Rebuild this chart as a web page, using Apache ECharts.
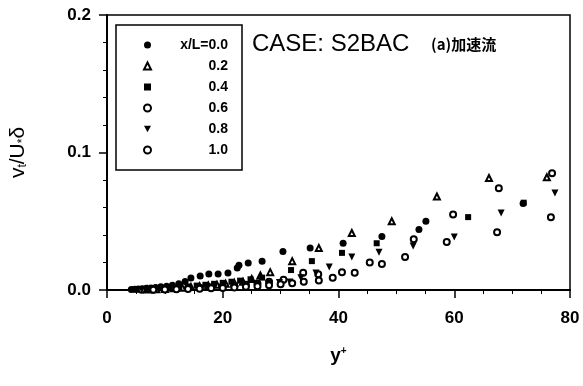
<!DOCTYPE html>
<html>
<head>
<meta charset="utf-8">
<script src="https://cdn.jsdelivr.net/npm/echarts@6/dist/echarts.min.js"></script>
<style>
  html, body { margin: 0; padding: 0; background: #fff; }
  #chart { width: 583px; height: 386px; }
</style>
</head>
<body>
<div id="chart"></div>
<script>
// Eddy viscosity profiles, case S2BAC (accelerating flow), at stations x/L
const stations = ['0.0', '0.2', '0.4', '0.6', '0.8', '1.0'];

// [y+, nu_t/(U* delta)] pairs for each station
const xL00 = [[4.2,0.0004],[4.8,0.0006],[5.4,0.0008],[6.1,0.001],[6.8,0.0012],[7.6,0.0015],[8.4,0.0019],[9.3,0.0023],[10.3,0.0028],[11.3,0.0034],[12.4,0.0045],[13.5,0.0062],[14.5,0.0087],[16.1,0.0102],[17.6,0.0116],[19.2,0.0116],[20.9,0.0124],[22.5,0.016],[22.8,0.018],[24.4,0.0196],[26.8,0.021],[30.4,0.028],[35.1,0.0305],[40.8,0.034],[47.5,0.039],[53.9,0.044],[55.1,0.050],[71.9,0.063]];
const xL02 = [[7,0.0003],[8.5,0.0005],[10,0.0008],[11.5,0.0012],[13,0.0017],[14.5,0.0022],[16,0.0028],[17.5,0.0033],[19,0.0038],[20.5,0.0045],[22,0.0052],[23.5,0.006],[25,0.008],[26.5,0.0105],[28.2,0.013],[32,0.021],[36.6,0.0305],[42.3,0.0415],[49.2,0.05],[57,0.068],[66,0.0815],[76,0.082]];
const xL04 = [[5,0.0003],[6,0.0005],[7,0.0007],[8,0.0009],[9.5,0.0012],[11,0.0016],[12.5,0.002],[14,0.0026],[15.5,0.0032],[17,0.0038],[18.5,0.0045],[20,0.0052],[21.5,0.006],[23,0.0068],[24.8,0.0078],[26.8,0.009],[31.8,0.0145],[35.4,0.021],[40.6,0.027],[46.6,0.034],[62.4,0.053],[72,0.0635]];
const xL06 = [[6,0.0002],[8,0.0004],[10,0.0006],[12,0.0009],[14,0.0012],[16,0.0016],[18,0.002],[20,0.0025],[22,0.003],[24,0.0038],[26,0.0048],[28,0.006],[30.5,0.0075],[33.9,0.0125],[36.5,0.0115],[40.6,0.013],[45.4,0.020],[53,0.037],[59.8,0.055],[67.7,0.074],[76.9,0.085]];
const xL08 = [[6,0.0001],[8,0.0003],[10,0.0005],[12,0.0007],[14,0.001],[16,0.0013],[18,0.0017],[20,0.0021],[22,0.0026],[24,0.0032],[26,0.004],[28,0.0048],[29.8,0.0055],[31.6,0.0058],[33.5,0.009],[36.1,0.0124],[38.4,0.0167],[42.3,0.024],[47,0.0275],[52.9,0.032],[60,0.0385],[68.1,0.056],[77.4,0.0705]];
const xL10 = [[8,0.0001],[10,0.0003],[12,0.0005],[14,0.0007],[16,0.0009],[18,0.0012],[20,0.0015],[22,0.0019],[24,0.0023],[26,0.0028],[28,0.0034],[30,0.0041],[32,0.005],[34,0.006],[36.6,0.007],[39,0.009],[42.8,0.0125],[47.5,0.019],[51.5,0.024],[58.7,0.035],[67.4,0.042],[76.7,0.053]];

const xTicks = [0, 20, 40, 60, 80];
const yTicks = [0.0, 0.1, 0.2];

const FONT = 'Liberation Sans, Arial, sans-serif';
const downTri = 'path://M0,0 L10,0 L5,9 Z';

const seriesData = [xL00, xL02, xL04, xL06, xL08, xL10];
const symbols = ['circle', 'emptyTriangle', 'rect', 'emptyCircle', downTri, 'emptyCircle'];
const sizes = [7, 6, 6, 6, 7, 6];

const chart = echarts.init(document.getElementById('chart'), null, { renderer: 'canvas' });

chart.setOption({
  animation: false,
  backgroundColor: '#fff',
  grid: {
    left: 107, right: 13, top: 15, bottom: 96,
    show: true, borderColor: '#000', borderWidth: 1.5, backgroundColor: 'transparent'
  },
  xAxis: {
    type: 'value', min: xTicks[0], max: xTicks[xTicks.length - 1], interval: 20,
    name: '{n|y}{sup|+}', nameLocation: 'middle', nameGap: 56,
    nameTextStyle: {
      color: '#000', fontFamily: FONT, fontSize: 18, fontWeight: 'bold',
      rich: {
        n: { fontSize: 19, fontWeight: 'bold', fontFamily: FONT, color: '#000' },
        sup: { fontSize: 10, fontWeight: 'bold', verticalAlign: 'top', padding: [0, 0, 10, 0], fontFamily: FONT, color: '#000' }
      }
    },
    axisLine: { lineStyle: { color: '#000', width: 2 } },
    axisTick: { inside: false, length: 8, lineStyle: { color: '#000', width: 1.5 } },
    minorTick: { show: true, splitNumber: 4, length: 4, lineStyle: { color: '#000', width: 1 } },
    axisLabel: { color: '#000', fontFamily: FONT, fontSize: 17, fontWeight: 'bold', margin: 20 },
    splitLine: { show: false }
  },
  yAxis: {
    type: 'value', min: yTicks[0], max: yTicks[yTicks.length - 1], interval: 0.1,
    name: '{n|v}{sub|t}{n|/U}{sub|*}{n|δ}', nameLocation: 'middle', nameGap: 78, nameRotate: 90,
    nameTextStyle: {
      color: '#000', fontFamily: FONT, fontSize: 21,
      rich: {
        n: { fontSize: 21, fontFamily: FONT, color: '#000' },
        sub: { fontSize: 12, verticalAlign: 'bottom', fontFamily: FONT, color: '#000', padding: [9, 0, 0, 0] }
      }
    },
    axisLine: { lineStyle: { color: '#000', width: 2 } },
    axisTick: { inside: false, length: 8, lineStyle: { color: '#000', width: 1.5 } },
    minorTick: { show: true, splitNumber: 5, length: 4, lineStyle: { color: '#000', width: 1 } },
    axisLabel: { color: '#000', fontFamily: FONT, fontSize: 17, fontWeight: 'bold', margin: 16,
      formatter: v => v.toFixed(1) },
    splitLine: { show: false }
  },
  legend: {
    orient: 'vertical', left: 116, top: 25,
    padding: [13, 14, 13, 27], itemGap: 7,
    itemWidth: 7, itemHeight: 7,
    borderColor: '#000', borderWidth: 1.5, backgroundColor: '#fff',
    data: stations,
    formatter: name => '{r|' + (name === '0.0' ? 'x/L=0.0' : name) + '}',
    textStyle: {
      color: '#000', fontFamily: FONT,
      rich: { r: { width: 72, align: 'right', fontSize: 14, fontWeight: 'bold', color: '#000', fontFamily: FONT, lineHeight: 15 } }
    }
  },
  graphic: [
    { type: 'text', left: 252, top: 32,
      style: { text: 'CASE: S2BAC', fill: '#000', font: '24px ' + FONT } },
    { type: 'text', left: 431, top: 37,
      style: { text: '(a)加速流', fill: '#000', font: 'bold 15px "Noto Sans CJK JP", ' + FONT } }
  ],
  series: stations.map((s, i) => ({
    name: s,
    type: 'scatter',
    data: seriesData[i],
    symbol: symbols[i],
    symbolSize: sizes[i],
    itemStyle: { color: '#000', borderColor: '#000', borderWidth: symbols[i].startsWith('empty') ? 2 : 0, opacity: 1 },
    z: 2 + i
  }))
});
</script>
</body>
</html>
